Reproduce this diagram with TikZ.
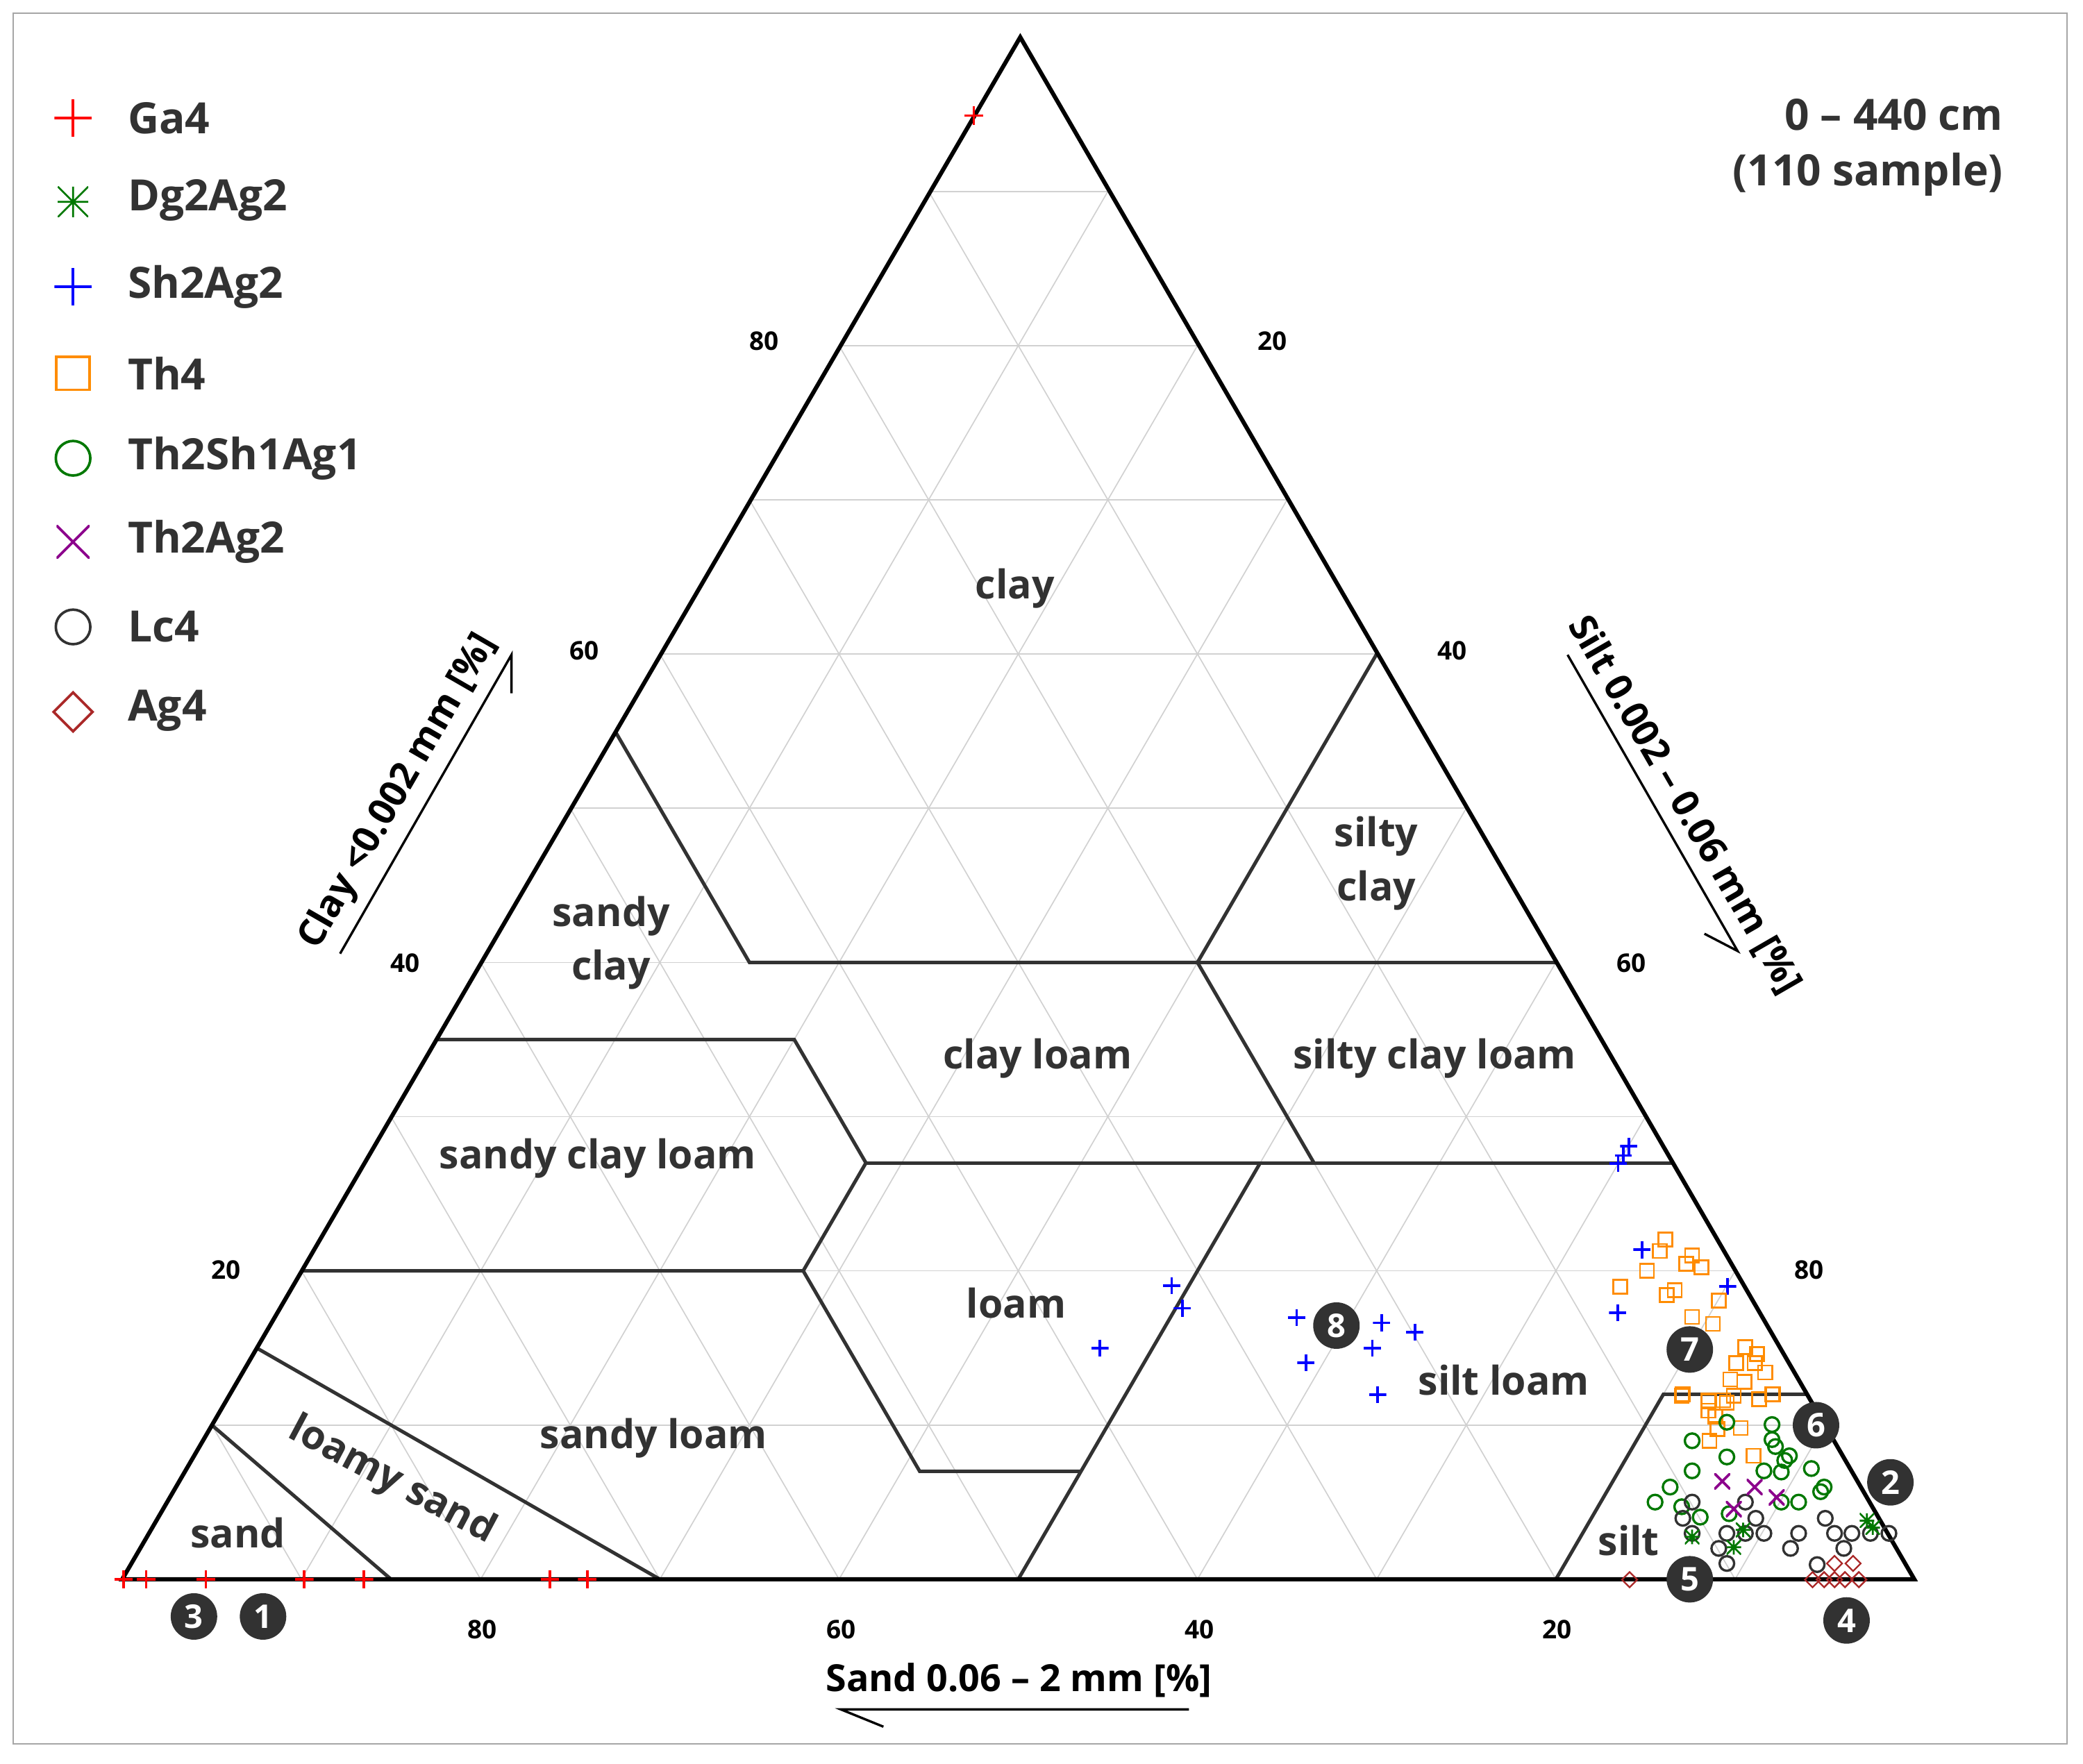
\documentclass[tikz,border=0pt]{standalone}
\usepackage{fontspec}
\setmainfont{Open Sans}
\usetikzlibrary{shapes.geometric}
\definecolor{orng}{RGB}{255,140,0}
\definecolor{dgreen}{RGB}{0,120,0}
\definecolor{purp}{RGB}{140,0,140}
\definecolor{brwn}{RGB}{170,40,40}
\definecolor{dgray}{RGB}{50,50,50}
\newcommand{\T}[3]{({92+13.49*(#2+0.5*#3)},{1189-11.61*#3})}
\tikzset{
 mplus/.style={inner sep=0,minimum size=#1,path picture={\draw[line width=1.1pt] (path picture bounding box.north)--(path picture bounding box.south) (path picture bounding box.west)--(path picture bounding box.east);}},
 mx/.style={inner sep=0,minimum size=#1,path picture={\draw[line width=1.1pt] (path picture bounding box.north west)--(path picture bounding box.south east) (path picture bounding box.south west)--(path picture bounding box.north east);}},
 mstar/.style={inner sep=0,minimum size=#1,path picture={\draw[line width=0.8pt] (path picture bounding box.north)--(path picture bounding box.south) (path picture bounding box.west)--(path picture bounding box.east) (path picture bounding box.north west)--(path picture bounding box.south east) (path picture bounding box.south west)--(path picture bounding box.north east);}},
 ga/.style={mplus=0.28cm,red},
 sh/.style={mplus=0.26cm,blue},
 dg/.style={mstar=0.22cm,dgreen},
 tx/.style={mx=0.24cm,purp},
 sq/.style={draw=orng,line width=0.8pt,inner sep=0,minimum size=0.21cm},
 gc/.style={circle,draw=dgreen,line width=1pt,inner sep=0,minimum size=0.22cm},
 lc/.style={circle,draw=dgray,line width=1pt,inner sep=0,minimum size=0.22cm},
 dm/.style={diamond,draw=brwn,line width=0.7pt,inner sep=0,minimum size=0.24cm},
 region/.style={font=\bfseries\fontsize{17}{23}\selectfont,text=dgray,align=center},
 tick/.style={font=\bfseries\fontsize{11}{13}\selectfont},
 leg/.style={font=\bfseries\fontsize{18.5}{24}\selectfont,text=dgray,anchor=west},
 num/.style={circle,fill=dgray,text=white,inner sep=0,minimum size=0.7cm,font=\bfseries\fontsize{14}{15}\selectfont},
 bnd/.style={draw=dgray,line width=1.5pt},
 grid line/.style={draw=black!18,line width=0.5pt},
 axt/.style={font=\bfseries\fontsize{16}{18}\selectfont}
}
\begin{document}
\begin{tikzpicture}[x=0.02cm,y=-0.02cm]
\useasboundingbox (0,0) rectangle (1568,1328);
\draw[black!35,line width=0.8pt] (10,10) rectangle (1556,1313);
\coordinate (A) at (92,1189);
\coordinate (B) at (1441,1189);
\coordinate (C) at (768,28);
% grid
\foreach \k in {10,20,...,90}{
 \pgfmathtruncatemacro{\m}{100-\k}
 \draw[grid line] \T{\m}{0}{\k} -- \T{0}{\m}{\k};
 \draw[grid line] \T{\m}{\k}{0} -- \T{0}{\k}{\m};
 \draw[grid line] \T{\k}{\m}{0} -- \T{\k}{0}{\m};
}
% boundaries
\draw[bnd] \T{45}{0}{55} -- \T{45}{15}{40} -- \T{20}{40}{40} -- \T{0}{40}{60};
\draw[bnd] \T{45}{15}{40} -- \T{0}{60}{40};
\draw[bnd] \T{65}{0}{35} -- \T{45}{20}{35} -- \T{45}{28}{27} -- \T{52}{28}{20} -- \T{80}{0}{20};
\draw[bnd] \T{20}{40}{40} -- \T{20}{53}{27};
\draw[bnd] \T{45}{28}{27} -- \T{0}{73}{27};
\draw[bnd] \T{52}{28}{20} -- \T{52}{41}{7} -- \T{43}{50}{7};
\draw[bnd] \T{23}{50}{27} -- \T{50}{50}{0};
\draw[bnd] \T{20}{80}{0} -- \T{8}{80}{12} -- \T{0}{88}{12};
\draw[bnd] \T{85}{0}{15} -- \T{70}{30}{0};
\draw[bnd] \T{90}{0}{10} -- \T{85}{15}{0};
\draw[line width=1.8pt,line join=miter] (A) -- (B) -- (C) -- cycle;
% region labels
\node[region] (l1) at (764,443) {clay};
\node[region] (l2) at (1036,650) {silty\\clay};
\node[region] (l3) at (460,710) {sandy\\clay};
\node[region] (l4) at (781,797) {clay loam};
\node[region] (l5) at (1080,797) {silty clay loam};
\node[region] (l6) at (450,872) {sandy clay loam};
\node[region] (l7) at (765,981) {loam};
\node[region] (l8) at (1132,1039) {silt loam};
\node[region] (l9) at (492,1083) {sandy loam};
\node[region,rotate=-28] (l10) at (295,1115) {loamy sand};
\node[region] (l11) at (179,1154) {sand};
\node[region] (l12) at (1226,1160) {silt};
% ticks
\node[tick] (t1) at (363,1227) {80};
\node[tick] (t2) at (633,1227) {60};
\node[tick] (t3) at (903,1227) {40};
\node[tick] (t4) at (1172,1227) {20};
\node[tick] (t5) at (575,257) {80};
\node[tick] (t6) at (440,490) {60};
\node[tick] (t7) at (305,725) {40};
\node[tick] (t8) at (170,956) {20};
\node[tick] (t9) at (958,257) {20};
\node[tick] (t10) at (1093,490) {40};
\node[tick] (t11) at (1228,725) {60};
\node[tick] (t12) at (1362,956) {80};
% axis titles
\node[axt,rotate=60] (ax1) at (300,596) {Clay <0.002 mm [\%]};
\coordinate (a1s) at (256,718); \coordinate (a1e) at (385,493); \coordinate (a1b) at (385,522);
\draw[line width=1pt] (a1s) -- (a1e) -- (a1b);
\node[axt,rotate=-60] (ax2) at (1268,606) {Silt 0.002 – 0.06 mm [\%]};
\coordinate (a2s) at (1180,493); \coordinate (a2e) at (1308,716); \coordinate (a2b) at (1283,703);
\draw[line width=1pt] (a2s) -- (a2e) -- (a2b);
\node[axt] (ax3) at (767,1265) {Sand 0.06 – 2 mm [\%]};
\coordinate (a3s) at (895,1287); \coordinate (a3e) at (633,1287); \coordinate (a3b) at (665,1300);
\draw[line width=1pt] (a3s) -- (a3e) -- (a3b);
% legend
\node[mplus=0.56cm,red] (g1) at (55,89) {}; \node[leg] (g1t) at (90,89) {Ga4};
\node[mstar=0.46cm,dgreen] (g2) at (55,152) {}; \node[leg] (g2t) at (90,151) {Dg2Ag2};
\node[mplus=0.56cm,blue] (g3) at (55,216) {}; \node[leg] (g3t) at (90,216) {Sh2Ag2};
\node[draw=orng,line width=1.1pt,minimum size=0.5cm,inner sep=0] (g4) at (55,281) {}; \node[leg] (g4t) at (90,281) {Th4};
\node[circle,draw=dgreen,line width=1.1pt,minimum size=0.52cm,inner sep=0] (g5) at (55,345) {}; \node[leg] (g5t) at (90,345) {Th2Sh1Ag1};
\node[mx=0.5cm,purp] (g6) at (55,408) {}; \node[leg] (g6t) at (90,408) {Th2Ag2};
\node[circle,draw=dgray,line width=1.1pt,minimum size=0.52cm,inner sep=0] (g7) at (55,472) {}; \node[leg] (g7t) at (90,472) {Lc4};
\node[diamond,draw=brwn,line width=1.1pt,minimum size=0.6cm,inner sep=0] (g8) at (55,536) {}; \node[leg] (g8t) at (90,535) {Ag4};
\node[leg,anchor=east,align=right] (ttl) at (1514,111) {0 – 440 cm\\(110 sample)};
% Ga4
\foreach \p in {(733,87),(93,1189),(110,1189),(155,1189),(229,1189),(274,1189),(414,1189),(442,1189)} \node[ga] at \p {};
% Sh2Ag2
\foreach \p in {(1226,863),(1218,876),(1222,870),(882,968),(890,985),(828,1015),(976,992),(983,1026),(1040,996),(1033,1015),(1065,1003),(1037,1050)} \node[sh] at \p {};
\begin{scope}[shift={(1202.3,920)},scale=0.1743]
\foreach \p in {(193,120),(88,392),(563,278)} \node[sh] at \p {};
\foreach \p in {(295,75),(270,125),(410,145),(385,180),(450,195),(215,210),(100,280),(300,315),(335,295),(525,340),(410,410),(500,440),(640,540),(690,570),(600,610),(680,610),(725,650),(575,680),(635,690),(370,745),(480,775),(545,770),(700,765),(760,745)} \node[sq] at \p {};
\end{scope}
\begin{scope}[shift={(1223.2,1045.5)},scale=0.1743]
\foreach \p in {(245,30),(360,50),(360,95),(440,60),(470,30),(580,45),(635,25),(500,170),(400,175),(365,225),(555,290),(390,120)} \node[sq] at \p {};
\foreach \p in {(440,145),(635,155),(290,225),(635,220),(650,250),(440,295),(710,290),(690,310),(290,355),(600,355),(675,360),(805,345),(195,425),(860,425),(845,445),(130,490),(245,510),(325,555),(450,540),(675,490),(750,490)} \node[gc] at \p {};
\foreach \p in {(290,490),(250,560),(520,490),(565,560),(290,625),(440,625),(520,625),(600,625),(405,690),(440,755),(865,560),(905,625),(980,625),(1060,625),(1140,625),(750,625),(715,690),(945,690),(830,760)} \node[lc] at \p {};
\foreach \p in {(420,400),(560,425),(655,470),(470,520)} \node[tx] at \p {};
\foreach \p in {(1045,570),(1070,600),(290,640),(510,610),(470,685)} \node[dg] at \p {};
\foreach \p in {(20,825),(810,825),(860,825),(905,825),(950,825),(1010,825),(905,755),(985,755)} \node[dm] at \p {};
\end{scope}
% numbers
\node[num] (n1) at (198,1217) {1};
\node[num] (n3) at (146,1217) {3};
\node[num] (n8) at (1006,998) {8};
\node[num] (n7) at (1272,1016) {7};
\node[num] (n6) at (1367,1073) {6};
\node[num] (n2) at (1423,1116) {2};
\node[num] (n5) at (1272,1189) {5};
\node[num] (n4) at (1390,1220) {4};
\end{tikzpicture}
\end{document}
